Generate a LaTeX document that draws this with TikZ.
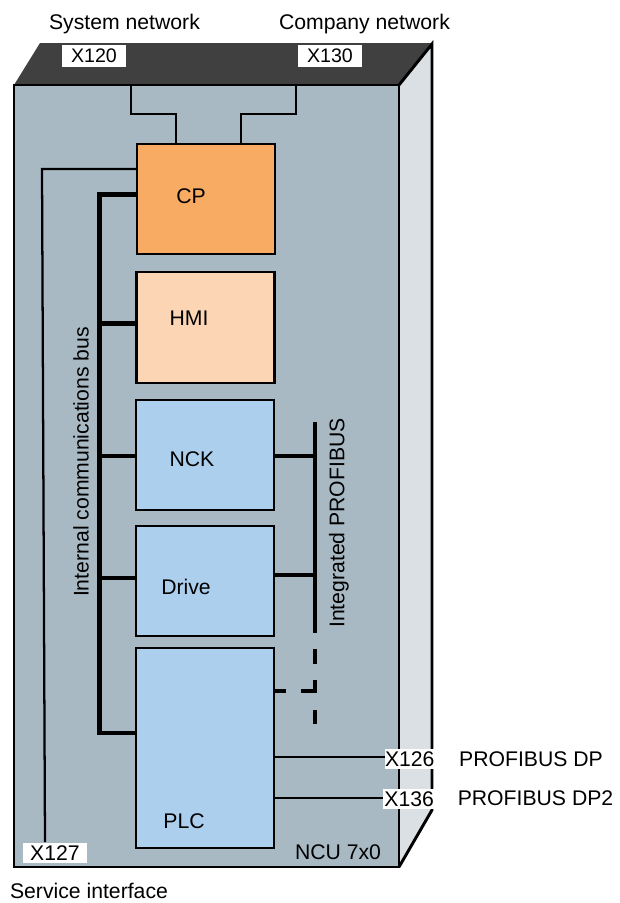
\documentclass[tikz,border=0pt]{standalone}
\usepackage{fontspec}
\setmainfont{Liberation Sans}
\definecolor{frontgray}{HTML}{A8B9C4}
\definecolor{topgray}{HTML}{404040}
\definecolor{sidegray}{HTML}{DAE0E4}
\definecolor{cporange}{HTML}{F8AB62}
\definecolor{hmiorange}{HTML}{FCD5B5}
\definecolor{unitblue}{HTML}{ADCFEE}
\begin{document}
\begin{tikzpicture}[
  x=0.75pt, y=-0.75pt,
  unit/.style={rectangle, draw, line width=1.8pt, inner sep=0pt, minimum width=103.5pt},
  lbl/.style={inner sep=0pt, font=\fontsize{15.9}{18}\selectfont},
  port/.style={fill=white, inner sep=0pt, minimum height=15.4pt, font=\fontsize{15.9}{18}\selectfont},
  wire/.style={line width=1.7pt},
  bus/.style={line width=3.2pt},
  pbus/.style={line width=3.7pt}
]
  \useasboundingbox (0,0) rectangle (619,903);

  % housing
  \fill[topgray] (14,85) -- (40,43) -- (432,43) -- (399,85) -- cycle;
  \fill[sidegray] (399,85) -- (432,43) -- (432,810) -- (399,867) -- cycle;
  \draw[line width=2.2pt] (399,85) -- (432,44) -- (432,810) -- (399,867);
  \node[rectangle, draw, line width=2pt, fill=frontgray, inner sep=0pt,
        minimum width=288.75pt, minimum height=586.5pt] (front) at (206.5,476) {};

  % units
  \node[unit, fill=cporange, minimum height=82.5pt] (cp) at (206,199) {};
  \node[unit, fill=hmiorange, minimum height=83pt] (hmi) at (205.5,327.5) {};
  \node[unit, fill=unitblue, minimum height=82.5pt] (nck) at (205,455) {};
  \node[unit, fill=unitblue, minimum height=82.5pt] (drive) at (205,581) {};
  \node[unit, fill=unitblue, minimum height=150pt] (plc) at (205,748) {};

  \node[lbl] (cplabel) at (191,196) {CP};
  \node[lbl] (hmilabel) at (189,318) {HMI};
  \node[lbl] (ncklabel) at (192,459) {NCK};
  \node[lbl] (drivelabel) at (186,587) {Drive};
  \node[lbl] (plclabel) at (184,821) {PLC};

  % ports
  \node[port, font=\fontsize{14.7}{18}\selectfont, minimum width=48pt, minimum height=16.5pt] (x120) at (94,56) {X120};
  \node[port, font=\fontsize{14.7}{18}\selectfont, minimum width=48pt, minimum height=16.5pt] (x130) at (330,56) {X130};
  \node[port, minimum width=48pt] (x127) at (55,853) {X127};
  \node[port, minimum width=36.75pt, text width=36.75pt, align=right] (x126) at (409.5,759) {X126\hspace*{4pt}};
  \node[port, minimum width=38.25pt, text width=38.25pt, align=right] (x136) at (408.5,799) {X136\hspace*{4pt}};

  % outer labels
  \node[lbl] (sysnet) at (124.5,24) {System network};
  \node[lbl] (compnet) at (364.5,24) {Company network};
  \node[lbl] (dp) at (531,759) {PROFIBUS DP};
  \node[lbl] (dptwo) at (535.5,798) {PROFIBUS DP2};
  \node[lbl] (ncuname) at (338,852) {NCU 7x0};
  \node[lbl] (service) at (89,891) {Service interface};
  \node[lbl, rotate=90] (buslabel) at (81,462) {Internal communications bus};
  \node[lbl, rotate=90] (pbuslabel) at (339,523) {Integrated PROFIBUS};

  % free ends
  \coordinate (netleft) at (131,85);
  \coordinate (netright) at (296,85);
  \coordinate (buscp) at (99.5,194.5);
  \coordinate (busplc) at (99.5,733);
  \coordinate (pbustop) at (315,422);
  \coordinate (pbusend) at (315,633);
  \coordinate (pbusplc) at (315,691);
  \coordinate (pbuslow) at (315,724);

  % network and service lines
  \draw[wire] (netleft) -- (131,114) -- (176,114) -- (176,144);
  \draw[wire] (netright) -- (296,114) -- (241,114) -- (241,144);
  \draw[wire] (136,169) -- (42,169) -- (45,842);
  \draw[wire] (274,757) -- (x126.west |- 0,757);
  \draw[wire] (274,798) -- (x136.west |- 0,798);

  % internal bus
  \draw[bus] (137,194.5) -- (buscp) -- (busplc) -- (136,733);
  \draw[bus] (99.5,323.5) -- (136,323.5);
  \draw[bus] (99.5,456) -- (136,456);
  \draw[bus] (99.5,578) -- (136,578);

  % integrated bus
  \draw[pbus] (pbustop) -- (pbusend);
  \draw[pbus] (274,456) -- (315,456);
  \draw[pbus] (274,575) -- (315,575);
  \draw[pbus] (315,649) -- (315,664);
  \draw[pbus] (315,680) -- (pbusplc) -- (301,691);
  \draw[pbus] (275,691) -- (286,691);
  \draw[pbus] (315,710) -- (pbuslow);
\end{tikzpicture}
\end{document}
